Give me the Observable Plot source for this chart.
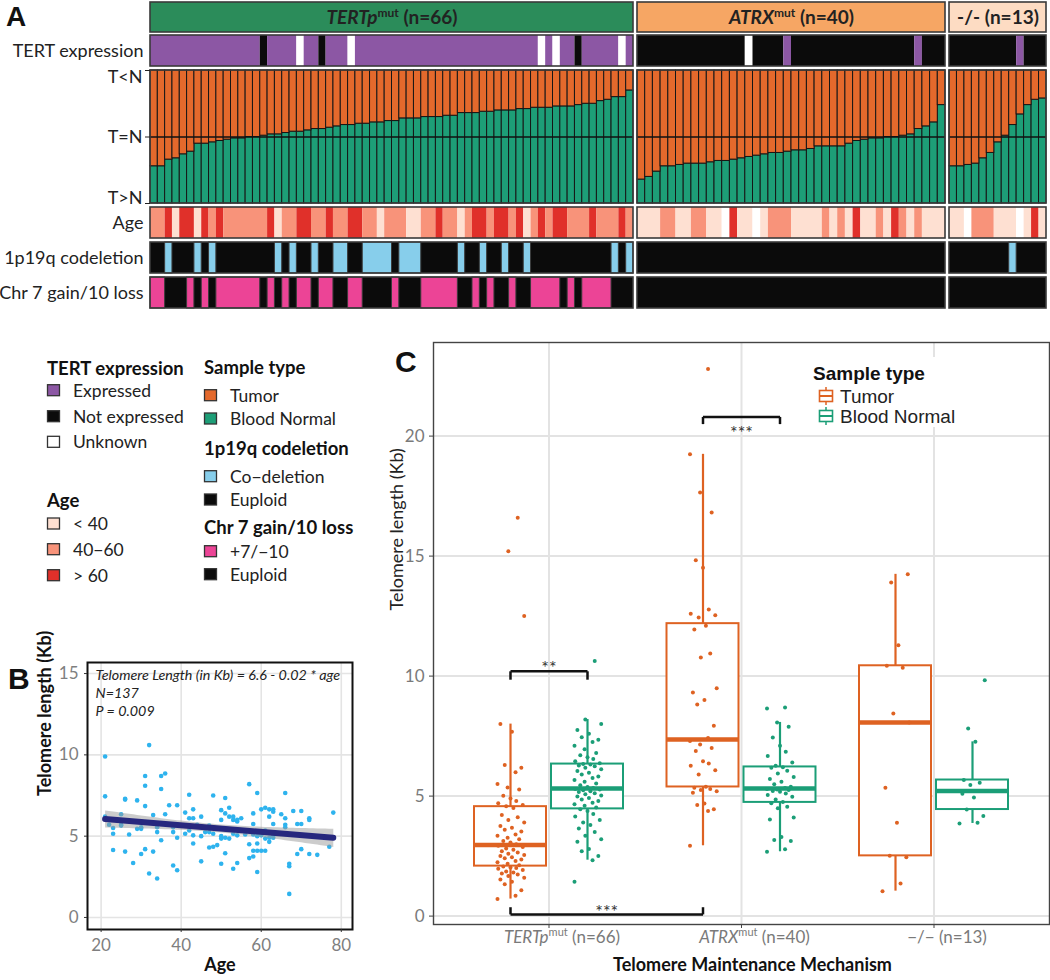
<!DOCTYPE html>
<html>
<head>
<meta charset="utf-8">
<script src="https://cdn.jsdelivr.net/npm/d3@7"></script>
<script src="https://cdn.jsdelivr.net/npm/@observablehq/plot@0.6"></script>
<style>
html,body{margin:0;padding:0;background:#fff;}
#root{position:relative;width:1050px;height:980px;overflow:hidden;font-family:Lato,"Open Sans",sans-serif;color:#222;}
#root > svg{position:absolute;}
.letter{position:absolute;font-family:"Liberation Sans",Arial,sans-serif;font-weight:bold;color:#111;line-height:1;}
</style>
</head>
<body>
<div id="root"></div>
<script>
// ================= DATA =================
// ---- Panel A ----
const groupKeys = ["TERTp", "ATRX", "none"];
const groupHeaders = ["TERTp|mut| (n=66)", "ATRX|mut| (n=40)", "-/- (n=13)"];
const headerColors = ["#2B8C5A", "#F6A664", "#FDDCC3"];

// share (%) of the stacked bar taken by Blood Normal (bottom part), sorted per group
const normalShareTERTp = [28,28,33,34,37,39,45,45,46,47, 48,49,49,50,50,51,52,52,53,54,
  54,55,56,56,57,58,59,59,60,60, 61,61,62,62,64,64,64,65,65,65, 66,66,68,68,68,69,69,70,70,70,
  71,71,72,72,72,73,73,73,74,75, 75,77,78,80,80,85];
const normalShareATRX = [18,20,24,28,28,29,30,30,30,31, 32,32,33,34,35,36,37,38,38,39,
  40,40,41,43,43,43,43,45,47,48, 49,49,50,50,51,52,56,58,61,74];
const normalShareNone = [28,28,29,30,34,38,46,51,59,67,74,78,79];

// TERT expression: E expressed, N not expressed, U unknown
const tertTERTp = "EEEEEEEEEE"+"EEEEENEEEE"+"UEENEEEUEE"+"EEEEEEEEEE"+"EEEEEEEEEE"+"EEEUEUEENE"+"EEEEUE";
const tertATRX  = "NNNNNNNNNN"+"NNNNUNNNNE"+"NNNNNNNNNN"+"NNNNNNENNN";
const tertNone  = "NNNNNNNNNENNN";
// Age: L <40, M 40-60, H >60, W unknown
const ageTERTp = "MMHLHHLHMH"+"MMMMMMHLMM"+"HHMMHMMHHM"+"MLMMMLLMMH"+"MMLMHHMHHM"+"HLMHMHHMMM"+"HMMMHM";
const ageATRX  = "LLLMMLLMML"+"LWHLLWLMMM"+"LLLLMLMLHL"+"LMLHMLMLLL";
const ageNone  = "LLWMMMLLLWLHL";
// 1p19q: C co-deletion, E euploid
const codelTERTp = "EECEEECECE"+"EEEEEEECEC"+"EECEECCEEC"+"CCCECCCEEE"+"EECEECEECE"+"ECEEEEEEEE"+"EEECEC";
const codelATRX  = "EEEEEEEEEE"+"EEEEEEEEEE"+"EEEEEEEEEE"+"EEEEEEEEEE";
const codelNone  = "EEEEEEEECEEEE";
// Chr7 gain / 10 loss: G +7/-10, E euploid
const chr7TERTp = "GGEEEGEGEG"+"GGGGGEGEGE"+"GGEGGEEGGE"+"EEEGEEEGGG"+"GGEEGEGEEG"+"EEGGGGEGEG"+"GGGEEE";
const chr7ATRX  = "EEEEEEEEEE"+"EEEEEEEEEE"+"EEEEEEEEEE"+"EEEEEEEEEE";
const chr7None  = "EEEEEEEEEEEEE";

const ratioTickValues = [1, 0.5, 0];
const ratioTickLabels = ["T<N", "T=N", "T>N"];

// ---- Panel B: age vs telomere length ----
const ageB = [32,21,31,31,35,36,35,21,26,29, 31,37,39,42,48,51,57,59,66,21,
  23,23,25,25,27,30,30,33,34,35, 36,38,39,41,42,43,43,45,41,43,
  43,45,47,47,48,49,50,51,52,52, 53,53,54,54,51,50,52,54,55,58,
  58,60,61,62,63,63,62,65,66,66, 66,68,70,72,72,70,78,59,60,62,
  62,63,59,57,58,59,60,61,58,57, 59,67,67,67,70,69,72,74,77,23,
  26,30,31,33,28,32,34,38,39,45, 50,53,54,51,34,63,61,48,56,58,
  61,40,42,46,38,25,29,69,55,63, 50,22,26,50,53,47,44];
const tlB = [10.6,9.9,8.7,8.1,8.7,8.85,7.9,7.45,7.3,7.2, 6.85,6.9,6.9,7.55,7.5,7.35,8.2,7.65,7.65,6.2,
  5.5,5.15,6.35,5.65,5.1,5.55,5.45,6.3,5.25,4.75, 6.35,5.25,4.9,6.45,6.1,6.1,6.65,6.2,5.15,5.05,
  4.55,5.0,5.65,5.25,4.35,4.45,6.6,6.4,6.75,6.2, 6.2,6.0,6.0,5.9,4.9,4.85,4.85,5.05,5.35,6.4,
  5.75,6.65,6.75,6.65,6.65,6.5,6.2,6.35,6.1,5.7, 5.55,6.55,6.55,6.1,6.0,5.75,6.45,5.0,5.05,4.9,
  4.65,4.9,4.55,4.5,4.1,4.1,4.1,4.1,3.75,3.65, 2.8,3.3,3.15,1.45,4.2,3.9,3.9,3.85,4.35,4.15,
  4.05,3.9,4.2,4.05,3.35,2.7,2.4,3.2,2.9,3.45, 3.3,3.0,3.35,3.95,5.55,5.75,4.85,5.15,5.1,5.1,
  5.35,5.65,5.35,5.25,5.55,5.7,5.45,5.75,6.1,5.05, 6.0,5.7,7.25,5.0,5.15,4.3,5.7];
const fitText = ["Telomere Length (in Kb) = 6.6 - 0.02 * age", "N=137", "P = 0.009"];

// ---- Panel C: telomere length (Kb) by mechanism and sample type ----
const cGroupLabels = ["TERTp|mut| (n=66)", "ATRX|mut| (n=40)", "\u2212/\u2212 (n=13)"];
const tlTumorTERTp = [0.71,0.85,1.08,1.33,1.43,1.53,1.6,1.67,1.73,1.78,1.82,1.86,1.92,1.97,2.0,2.03,
  2.07,2.12,2.18,2.24,2.3,2.36,2.41,2.45,2.5,2.55,2.6,2.65,2.7,2.76,2.82,2.88,2.93,
  2.99,3.07,3.13,3.2,3.26,3.35,3.4,3.52,3.6,3.68,3.75,3.9,4.0,4.12,4.21,4.5,4.58,
  4.63,4.7,4.8,4.9,5.01,5.28,5.36,5.5,5.99,6.18,6.3,7.68,8.0,12.5,15.2,16.6];
const tlNormalTERTp = [1.43,2.33,2.5,2.7,2.8,3.1,3.2,3.35,3.5,3.65,3.8,3.9,4.0,4.15,4.25,4.38,
  4.45,4.52,4.6,4.66,4.72,4.8,4.86,4.92,4.98,5.02,5.08,5.12,5.17,5.2,5.24,5.28,5.3,
  5.34,5.38,5.45,5.52,5.6,5.67,5.75,5.82,5.9,5.97,6.05,6.12,6.18,6.24,6.28,6.32,6.34,
  6.37,6.45,6.55,6.62,6.7,6.8,6.95,7.1,7.25,7.35,7.45,7.6,7.75,8.0,8.19,10.63];
const tlTumorATRX = [2.93,4.38,4.45,4.63,4.69,5.14,5.2,5.25,5.3,5.35,5.39,
  5.9,6.08,6.26,6.36,6.45,6.88,7.0,7.15,7.3,7.42,
  7.93,8.82,9.0,9.32,9.49,10.78,10.94,11.94,12.1,12.44,
  12.54,12.6,12.78,14.51,14.83,16.82,17.65,19.24,22.8];
const tlNormalATRX = [2.68,2.79,3.13,3.17,3.3,4.03,4.11,4.49,4.56,4.7,4.75,
  4.86,4.97,5.05,5.11,5.18,5.21,5.25,5.28,5.3,5.34,
  5.39,5.49,5.6,5.71,5.8,5.94,6.06,6.18,6.2,6.26,
  6.4,6.67,6.85,7.1,7.44,7.89,8.07,8.65,8.69];
const tlTumorNone = [1.04,1.36,2.45,2.51,3.89,5.35,8.07,8.44,10.35,10.43,11.29,13.9,14.24];
const tlNormalNone = [3.86,3.89,4.17,4.44,4.94,5.1,5.21,5.46,5.56,5.67,7.26,7.82,9.83];

// significance brackets (value-space levels)
const sigBrackets = [
  {g1: 0, t1: "Tumor", g2: 0, t2: "Normal", level: 10.2, tick: -0.35, label: "**", labelY: 10.32},
  {g1: 1, t1: "Tumor", g2: 1, t2: "Normal", level: 20.8, tick: -0.3, label: "***", labelY: 20.1},
  {g1: 0, t1: "Tumor", g2: 1, t2: "Tumor", level: 0.07, tick: 0.3, label: "***", labelY: 0.16}
];

// ================= STYLE =================
const FONT = "Lato, 'Open Sans', sans-serif";
const tertColors = {E: "#8C57A4", N: "#0B0B0B", U: "#FFFFFF"};
const ageColors = {L: "#FEE0D2", M: "#F8937A", H: "#E0302A", W: "#FFFFFF"};
const codelColors = {C: "#87CEEB", E: "#0B0B0B"};
const chr7Colors = {G: "#EC4496", E: "#0B0B0B"};
const typeColorsA = {Tumor: "#E4692C", Normal: "#1D9E77"};
const typeColorsC = {Tumor: "#DE6222", Normal: "#1B9E77"};
const root = document.getElementById("root");

function place(el, left, top) {
  el.style.position = "absolute"; el.style.left = left + "px"; el.style.top = top + "px";
  root.appendChild(el); return el;
}
function richSvgText(str, supSize, rise) {
  const p = str.split("|");
  if (p.length < 3) return str;
  return `<tspan font-style="italic">${p[0]}</tspan><tspan font-size="${supSize}" dy="${-rise}" font-style="normal">${p[1]}</tspan><tspan dy="${rise}">${p[2]}</tspan>`;
}

// ================= PANEL A =================
const seriesA = [
  {share: normalShareTERTp, tert: tertTERTp, age: ageTERTp, codel: codelTERTp, chr7: chr7TERTp},
  {share: normalShareATRX, tert: tertATRX, age: ageATRX, codel: codelATRX, chr7: chr7ATRX},
  {share: normalShareNone, tert: tertNone, age: ageNone, codel: codelNone, chr7: chr7None}
];
const GAP = 0.5;
const groupsData = [];
let cursor = 0;
seriesA.forEach((s, gi) => {
  groupsData.push({key: groupKeys[gi], header: groupHeaders[gi], color: headerColors[gi], start: cursor, end: cursor + s.share.length});
  cursor += s.share.length + GAP;
});
const samples = [];
seriesA.forEach((s, gi) => s.share.forEach((v, i) => samples.push({
  group: groupKeys[gi], pos: groupsData[gi].start + i, share: v / 100,
  tert: s.tert[i], age: s.age[i], codel: s.codel[i], chr7: s.chr7[i]
})));
// consecutive runs of the same code within a group (merged annotation blocks)
function runsOf(key, skip) {
  const runs = [];
  seriesA.forEach((s, gi) => {
    const codes = s[key];
    let i = 0;
    while (i < codes.length) {
      let j = i;
      while (j + 1 < codes.length && codes[j + 1] === codes[i]) j++;
      if (codes[i] !== skip) runs.push({code: codes[i], start: groupsData[gi].start + i, end: groupsData[gi].start + j + 1});
      i = j + 1;
    }
  });
  return runs;
}
const xDomainA = groupsData.flatMap(g => [g.start, g.end]);
const xRangeA = [150, 633, 637, 945, 949, 1046];

function rowA(top, h, marks, yAxis = null) {
  const p = Plot.plot({
    width: 1050, height: h + 4, marginTop: 2, marginBottom: 2, marginLeft: 150, marginRight: 4,
    x: {type: "linear", domain: xDomainA, range: xRangeA, axis: null},
    y: {domain: [0, 1], axis: yAxis, label: null},
    color: {type: "identity"},
    style: {fontFamily: FONT, fontSize: "18px", color: "#222", background: "transparent", overflow: "visible"},
    marks
  });
  return place(p, 0, top - 2);
}
const outlineA = () => Plot.rect(groupsData, {x1: "start", x2: "end", y1: 0, y2: 1, fill: "none", stroke: "#3a3a3a", strokeWidth: 1.6});
const rowLabel = t => Plot.text([t], {text: d => d, frameAnchor: "left", dx: -7, textAnchor: "end", fontSize: 18, fill: "#222"});
const flatCells = (key, colors) => Plot.rect(runsOf(key, null), {x1: "start", x2: "end", y1: 0, y2: 1,
  fill: d => colors[d.code]});
const groupBackground = color => Plot.rect(groupsData, {x1: "start", x2: "end", y1: 0, y2: 1, fill: color});
const boxedCells = (key, colors, plain) => Plot.rect(runsOf(key, plain), {x1: "start", x2: "end", y1: 0, y2: 1,
  fill: d => colors[d.code], stroke: "#3a3a3a", strokeWidth: 1});

// header
const header = rowA(2, 30, [
  Plot.rect(groupsData, {x1: "start", x2: "end", y1: 0, y2: 1, fill: "color", stroke: "#3a3a3a", strokeWidth: 1.6}),
  Plot.text(groupsData, {x: d => (d.start + d.end) / 2, y: 0.5, text: "header", fontSize: 19, fontWeight: "bold", fill: "#222"})
]);
header.querySelectorAll('g[aria-label="text"] text').forEach(t => { t.innerHTML = richSvgText(t.textContent, 12, 7); });

// TERT expression
rowA(35, 31, [flatCells("tert", tertColors), outlineA(), rowLabel("TERT expression")]);

// stacked ratio bars
rowA(70, 133, [
  Plot.rect(samples, {x1: "pos", x2: d => d.pos + 1, y1: 0, y2: "share", fill: typeColorsA.Normal, stroke: "#161616", strokeWidth: 1}),
  Plot.rect(samples, {x1: "pos", x2: d => d.pos + 1, y1: "share", y2: 1, fill: typeColorsA.Tumor, stroke: "#161616", strokeWidth: 1}),
  Plot.ruleY(groupsData, {x1: "start", x2: "end", y: 0.5, stroke: "#111", strokeWidth: 1.3}),
  outlineA(),
  Plot.axisY(ratioTickValues, {tickSize: 5, tickFormat: () => "", stroke: "#222", label: null}),
  Plot.text([0], {y: () => ratioTickValues[0], text: () => ratioTickLabels[0], frameAnchor: "left", dx: -8, textAnchor: "end", lineAnchor: "top", fontSize: 18, fill: "#222"}),
  Plot.text([1], {y: () => ratioTickValues[1], text: () => ratioTickLabels[1], frameAnchor: "left", dx: -8, textAnchor: "end", lineAnchor: "middle", fontSize: 18, fill: "#222"}),
  Plot.text([2], {y: () => ratioTickValues[2], text: () => ratioTickLabels[2], frameAnchor: "left", dx: -8, textAnchor: "end", lineAnchor: "bottom", fontSize: 18, fill: "#222"})
]);

rowA(207, 31, [flatCells("age", ageColors), outlineA(), rowLabel("Age")]);
rowA(242, 31, [groupBackground(codelColors.E), boxedCells("codel", codelColors, "E"), outlineA(), rowLabel("1p19q codeletion")]);
rowA(277, 31, [groupBackground(chr7Colors.E), boxedCells("chr7", chr7Colors, "E"), outlineA(), rowLabel("Chr 7 gain/10 loss")]);

// ================= LEGEND (panel A) =================
const legendBlocks = [
  {title: "TERT expression", x: 47, y: 375, items: [["Expressed", tertColors.E], ["Not expressed", tertColors.N], ["Unknown", tertColors.U]], ys: [396.7, 422.7, 448.3]},
  {title: "Age", x: 47, y: 506.7, items: [["< 40", ageColors.L], ["40\u221260", ageColors.M], ["> 60", ageColors.H]], ys: [530, 555.7, 581.7]},
  {title: "Sample type", x: 204, y: 374.3, items: [["Tumor", typeColorsA.Tumor], ["Blood Normal", typeColorsA.Normal]], ys: [401.7, 425]},
  {title: "1p19q codeletion", x: 204, y: 455, items: [["Co\u2212deletion", codelColors.C], ["Euploid", codelColors.E]], ys: [482.7, 506]},
  {title: "Chr 7 gain/10 loss", x: 204, y: 534, items: [["+7/\u221210", chr7Colors.G], ["Euploid", chr7Colors.E]], ys: [557.7, 580.7]}
];
{
  const svg = d3.create("svg").attr("width", 390).attr("height", 260).attr("viewBox", "0 340 390 260")
    .style("font-family", FONT);
  for (const b of legendBlocks) {
    svg.append("text").attr("x", b.x).attr("y", b.y).attr("font-size", 18.5).attr("font-weight", "bold").attr("fill", "#111").text(b.title);
    b.items.forEach(([lab, col], i) => {
      svg.append("rect").attr("x", b.x + 0.5).attr("y", b.ys[i] - 12).attr("width", 12).attr("height", 11)
        .attr("fill", col).attr("stroke", "#333").attr("stroke-width", 1.3);
      svg.append("text").attr("x", b.x + 26).attr("y", b.ys[i]).attr("font-size", 17.5).attr("fill", "#222").text(lab);
    });
  }
  place(svg.node(), 0, 340);
}

// ================= PANEL B =================
const ageData = ageB.map((a, i) => ({age: a, tl: tlB[i]}));
place(Plot.plot({
  width: 360, height: 330, marginLeft: 87, marginRight: 8, marginTop: 12, marginBottom: 51,
  x: {domain: [16.6, 82.8], label: null},
  y: {domain: [-0.74, 15.68], label: null},
  style: {fontFamily: FONT, fontSize: "17px", color: "#333", background: "transparent", overflow: "visible"},
  marks: [
    Plot.gridX([20, 40, 60, 80], {stroke: "#e4e4e4", strokeOpacity: 1, strokeWidth: 1.6}),
    Plot.gridY([0, 5, 10, 15], {stroke: "#e4e4e4", strokeOpacity: 1, strokeWidth: 1.6}),
    Plot.dot(ageData, {x: "age", y: "tl", r: 2.3, fill: "#2EB3EE", stroke: "none"}),
    Plot.linearRegressionY(ageData, {x: "age", y: "tl", stroke: "#27287E", strokeWidth: 6, fill: "#9a9a9a", fillOpacity: 0.5}),
    Plot.frame({stroke: "#111", strokeWidth: 2}),
    Plot.axisX([20, 40, 60, 80], {tickSize: 3, fill: "#7f7f7f", stroke: "#333", fontSize: 17, label: null}),
    Plot.axisY([0, 5, 10, 15], {tickSize: 3, fill: "#7f7f7f", stroke: "#333", fontSize: 17, label: null}),
    Plot.text([fitText.join("\n")], {text: d => d, frameAnchor: "top-left", dx: 8, dy: 5, lineAnchor: "top", lineHeight: 1.25, fontStyle: "italic", fontSize: 14.3, fill: "#222"}),
    Plot.text(["Age"], {text: d => d, frameAnchor: "bottom", dy: 41, fontWeight: "bold", fontSize: 18, fill: "#111"}),
    Plot.text(["Telomere length (Kb)"], {text: d => d, frameAnchor: "left", rotate: -90, dx: -42, fontWeight: "bold", fontSize: 18, fill: "#111"})
  ]
}), 0, 650);

// ================= PANEL C =================
const dodgeOffset = {Tumor: -0.2, Normal: 0.2};
const boxHalf = 0.187;
const jitterPattern = [-0.9, 0.35, 0.75, -0.4, 0.1, -0.7, 0.95, -0.15, 0.5, -0.6, 0.2, -0.3, 0.85, -0.85, 0.4, 0, -0.5, 0.6, -0.2];
const jitterWidth = 0.075;
const cSeries = [
  {g: 0, type: "Tumor", values: tlTumorTERTp}, {g: 0, type: "Normal", values: tlNormalTERTp},
  {g: 1, type: "Tumor", values: tlTumorATRX}, {g: 1, type: "Normal", values: tlNormalATRX},
  {g: 2, type: "Tumor", values: tlTumorNone}, {g: 2, type: "Normal", values: tlNormalNone}
];
const stats = cSeries.map(s => {
  const v = s.values.slice().sort(d3.ascending);
  const q1 = d3.quantile(v, 0.25), med = d3.quantile(v, 0.5), q3 = d3.quantile(v, 0.75), iqr = q3 - q1;
  return {x: s.g + dodgeOffset[s.type], q1, med, q3,
    lo: d3.min(v.filter(d => d >= q1 - 1.5 * iqr)), hi: d3.max(v.filter(d => d <= q3 + 1.5 * iqr)),
    color: typeColorsC[s.type]};
});
const cPoints = cSeries.flatMap(s => s.values.map((v, i) => ({
  x: s.g + dodgeOffset[s.type] + jitterPattern[i % jitterPattern.length] * jitterWidth, v, color: typeColorsC[s.type]})));
const bracketSegs = sigBrackets.flatMap(b => {
  const xa = b.g1 + dodgeOffset[b.t1], xb = b.g2 + dodgeOffset[b.t2];
  return [{x1: xa, x2: xb, y1: b.level, y2: b.level}, {x1: xa, x2: xa, y1: b.level, y2: b.level + b.tick}, {x1: xb, x2: xb, y1: b.level, y2: b.level + b.tick}];
});
const plotC = Plot.plot({
  width: 710, height: 650, marginLeft: 93, marginRight: 1, marginTop: 12, marginBottom: 56,
  x: {domain: [-0.6, 2.6], label: null},
  y: {domain: [-0.35, 23.9], label: null},
  color: {type: "identity"},
  style: {fontFamily: FONT, fontSize: "17px", color: "#333", background: "transparent", overflow: "visible"},
  marks: [
    Plot.gridX([0, 1, 2], {stroke: "#e3e3e3", strokeOpacity: 1, strokeWidth: 2}),
    Plot.gridY([0, 5, 10, 15, 20], {stroke: "#e3e3e3", strokeOpacity: 1, strokeWidth: 2}),
    Plot.ruleX(stats, {x: "x", y1: "q3", y2: "hi", stroke: "color", strokeWidth: 2.2}),
    Plot.ruleX(stats, {x: "x", y1: "lo", y2: "q1", stroke: "color", strokeWidth: 2.2}),
    Plot.rect(stats, {x1: d => d.x - boxHalf, x2: d => d.x + boxHalf, y1: "q1", y2: "q3", fill: "white", stroke: "color", strokeWidth: 2}),
    Plot.ruleY(stats, {x1: d => d.x - boxHalf, x2: d => d.x + boxHalf, y: "med", stroke: "color", strokeWidth: 4.5}),
    Plot.dot(cPoints, {x: "x", y: "v", r: 2, fill: "color", stroke: "none"}),
    Plot.link(bracketSegs, {x1: "x1", y1: "y1", x2: "x2", y2: "y2", stroke: "#111", strokeWidth: 2.5}),
    Plot.text(sigBrackets, {x: b => (b.g1 + dodgeOffset[b.t1] + b.g2 + dodgeOffset[b.t2]) / 2, y: "labelY", text: "label", fontSize: 18, fill: "#333"}),
    Plot.frame({stroke: "#444", strokeWidth: 1.4}),
    Plot.axisX([0, 1, 2], {tickSize: 4, tickFormat: () => "", stroke: "#444", label: null}),
    Plot.axisY([0, 5, 10, 15, 20], {tickSize: 4, fill: "#7a7a7a", stroke: "#444", fontSize: 17, label: null}),
    Plot.text([0, 1, 2], {x: d => d, text: d => cGroupLabels[d], frameAnchor: "bottom", dy: 18, dx: 13, fontSize: 17, fill: "#7a7a7a"}),
    Plot.text(["Telomere Maintenance Mechanism"], {text: d => d, frameAnchor: "bottom", dy: 46, dx: 11, fontWeight: "bold", fontSize: 18, fill: "#111"}),
    Plot.text(["Telomere length (Kb)"], {text: d => d, frameAnchor: "left", rotate: -90, dx: -36, dy: -23, fontSize: 18, fill: "#222"})
  ]
});
place(plotC, 340, 330);
plotC.querySelectorAll('g[aria-label="text"] text').forEach(t => {
  if (t.textContent.includes("|")) t.innerHTML = richSvgText(t.textContent, 11, 7);
});

// legend C
{
  const svg = d3.create("svg").attr("width", 170).attr("height", 75).style("font-family", "'Liberation Sans', Arial, sans-serif");
  svg.append("rect").attr("x", 5).attr("y", 2).attr("width", 160).attr("height", 70).attr("fill", "white");
  svg.append("text").attr("x", 13).attr("y", 25).attr("font-size", 19).attr("font-weight", "bold").attr("fill", "#111").text("Sample type");
  [["Tumor", typeColorsC.Tumor, 41], ["Blood Normal", typeColorsC.Normal, 61]].forEach(([lab, col, cy]) => {
    svg.append("line").attr("x1", 26).attr("x2", 26).attr("y1", cy - 9).attr("y2", cy + 9).attr("stroke", col).attr("stroke-width", 1.5);
    svg.append("rect").attr("x", 19.5).attr("y", cy - 5.5).attr("width", 13).attr("height", 11).attr("fill", "white").attr("stroke", col).attr("stroke-width", 1.6);
    svg.append("line").attr("x1", 19.5).attr("x2", 32.5).attr("y1", cy).attr("y2", cy).attr("stroke", col).attr("stroke-width", 2);
    svg.append("text").attr("x", 40).attr("y", cy + 7).attr("font-size", 19).attr("fill", "#222").text(lab);
  });
  place(svg.node(), 800, 355);
}

// panel letters
[["A", 6, 3, 28], ["B", 8, 664, 30], ["C", 395, 347, 30]].forEach(([t, x, y, s]) => {
  const d = document.createElement("div"); d.className = "letter"; d.textContent = t; d.style.fontSize = s + "px";
  place(d, x, y);
});
</script>
</body>
</html>
